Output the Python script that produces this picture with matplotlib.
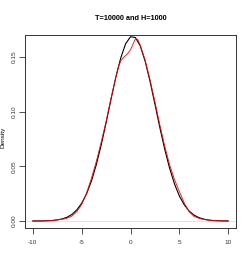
import matplotlib
matplotlib.use("Agg")
import matplotlib.pyplot as plt

# density curves
x = [-10, -9.5, -9, -8.5, -8, -7.5, -7, -6.5, -6, -5.5, -5, -4.5, -4, -3.5, -3,
     -2.5, -2, -1.5, -1, -0.5, 0, 0.5, 1, 1.5, 2, 2.5, 3, 3.5, 4, 4.5, 5,
     5.5, 6, 6.5, 7, 7.5, 8, 8.5, 9, 9.5, 10]
black_y = [0.00002, 0.00005, 0.0001, 0.00024, 0.0005, 0.001, 0.0019, 0.0034,
           0.006, 0.0101, 0.0162, 0.0248, 0.0366, 0.0515, 0.0695, 0.0897,
           0.111, 0.1315, 0.149, 0.162, 0.1684, 0.1677, 0.160, 0.146, 0.1276,
           0.1068, 0.0855, 0.0657, 0.0483, 0.034, 0.0229, 0.0148, 0.0091,
           0.0054, 0.0031, 0.0017, 0.00086, 0.00043, 0.0002, 0.0001, 0.00004]

red_x = [-10, -9.5, -9, -8.5, -8, -7.5, -7, -6.5, -6, -5.5, -5, -4.5, -4, -3.5,
         -3, -2.5, -2, -1.5, -1.25, -1, -0.75, -0.5, -0.25, 0, 0.25, 0.5, 0.75,
         1, 1.5, 2, 2.5, 3, 3.5, 4, 4.5, 5, 5.5, 6, 6.5, 7, 7.5, 8, 8.5, 9,
         9.5, 10]
red_y = [0.00003, 0.00005, 0.0001, 0.0002, 0.0005, 0.001, 0.0016, 0.0025,
         0.0045, 0.0085, 0.015, 0.0255, 0.039, 0.0545, 0.072, 0.091, 0.112,
         0.1315, 0.1405, 0.1462, 0.1492, 0.1512, 0.1535, 0.1565, 0.1615,
         0.1665, 0.1658, 0.1605, 0.147, 0.129, 0.109, 0.088, 0.0685, 0.0515,
         0.038, 0.027, 0.0165, 0.0085, 0.0042, 0.0025, 0.0014, 0.0008, 0.0004,
         0.0002, 0.0001, 0.00004]

x_ticks = [-10, -5, 0, 5, 10]
y_ticks = [0.00, 0.05, 0.10, 0.15]
y_tick_labels = ["0.00", "0.05", "0.10", "0.15"]
title = "T=10000 and H=1000"

plt.rcParams["font.family"] = ["Liberation Sans", "DejaVu Sans"]

fig = plt.figure(figsize=(2.49, 2.73), dpi=100)
ax = fig.add_axes([25 / 249, 45 / 273, 211 / 249, 193 / 273])

ax.axhline(0, color="#cccccc", lw=0.4)
ax.plot(x, black_y, color="black", lw=0.8)
ax.plot(red_x, red_y, color="red", lw=0.6)

ax.set_xlim(-10.8, 10.8)
ax.set_ylim(-0.0064, 0.1700)

ax.set_xticks(x_ticks)
ax.set_xticklabels([str(t) for t in x_ticks])
ax.set_yticks(y_ticks)
ax.set_yticklabels(y_tick_labels, rotation=90, va="center")
ax.tick_params(direction="out", length=4, width=0.6, labelsize=4.6,
               colors="#333333")
ax.tick_params(axis="x", pad=5)
ax.tick_params(axis="y", pad=2)
for s in ax.spines.values():
    s.set_linewidth(0.7)
    s.set_color("#333333")

ax.set_ylabel("Density", fontsize=4.6)
ax.yaxis.set_label_coords(-20 / 211, 0.47)
fig.text(130.5 / 249, 1 - 18 / 273, title, ha="center", va="center",
         fontsize=5.3, fontweight="bold")

fig.savefig("out.png", dpi=100)
